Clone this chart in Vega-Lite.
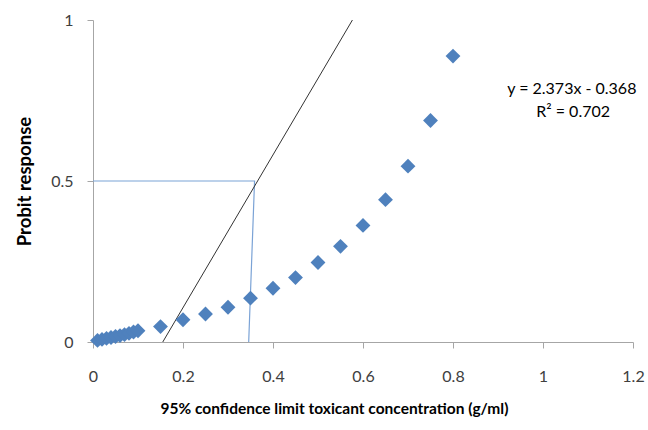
{
  "$schema": "https://vega.github.io/schema/vega-lite/v6.json",
  "width": 540,
  "height": 322,
  "autosize": "none",
  "padding": {"left": 93, "top": 20, "right": 15, "bottom": 88},
  "background": "white",
  "config": {
    "view": {"stroke": null},
    "font": "Lato",
    "axis": {"grid": false, "domainColor": "#A6A6A6", "tickColor": "#A6A6A6", "tickSize": 6, "labelColor": "#404040", "labelFontSize": 16, "labelFont": "Lato", "titleFont": "Lato", "titleColor": "#000000", "titleFontWeight": "bold", "titleFontSize": 15}
  },
  "encoding": {
    "x": {"field": "x", "type": "quantitative", "scale": {"domain": [0, 1.2], "nice": false, "zero": false},
      "axis": {"values": [0, 0.2, 0.4, 0.6, 0.8, 1, 1.2], "format": "~g", "labelPadding": 20, "title": "95% confidence limit toxicant concentration (g/ml)", "titleFontSize": 15.5, "titleX": 241, "titleY": 71, "titleAlign": "center", "titleBaseline": "alphabetic", "labelFlush": false}},
    "y": {"field": "y", "type": "quantitative", "scale": {"domain": [0, 1], "nice": false},
      "axis": {"values": [0, 0.5, 1], "format": "~g", "labelPadding": 14, "title": "Probit response", "titleFontSize": 18.5, "titleX": -63, "titleY": 161, "titleAngle": -90, "titleBaseline": "alphabetic", "titleAlign": "center", "labelFlush": false}}
  },
  "layer": [
    {
      "data": {"values": [{"x": 0, "y": 0.5, "o": 0}, {"x": 0.359, "y": 0.5, "o": 1}, {"x": 0.346, "y": 0, "o": 2}]},
      "mark": {"type": "line", "color": "#7BA3D6", "strokeWidth": 1.2},
      "encoding": {"order": {"field": "o", "type": "quantitative"}}
    },
    {
      "data": {"values": [{"x": 0.155, "y": 0}, {"x": 0.5765, "y": 1}]},
      "mark": {"type": "line", "color": "#333333", "strokeWidth": 1},
      "encoding": {}
    },
    {
      "data": {"values": [
        {"x": 0.01, "y": 0.005}, {"x": 0.02, "y": 0.008}, {"x": 0.03, "y": 0.011}, {"x": 0.04, "y": 0.014},
        {"x": 0.05, "y": 0.017}, {"x": 0.06, "y": 0.02}, {"x": 0.07, "y": 0.023}, {"x": 0.08, "y": 0.027},
        {"x": 0.09, "y": 0.031}, {"x": 0.1, "y": 0.035}, {"x": 0.15, "y": 0.048}, {"x": 0.2, "y": 0.069},
        {"x": 0.25, "y": 0.087}, {"x": 0.3, "y": 0.108}, {"x": 0.35, "y": 0.136}, {"x": 0.4, "y": 0.167},
        {"x": 0.45, "y": 0.2}, {"x": 0.5, "y": 0.247}, {"x": 0.55, "y": 0.297}, {"x": 0.6, "y": 0.362},
        {"x": 0.65, "y": 0.442}, {"x": 0.7, "y": 0.546}, {"x": 0.75, "y": 0.688}, {"x": 0.8, "y": 0.888}
      ]},
      "mark": {"type": "point", "shape": "diamond", "filled": true, "size": 220, "color": "#4F81BD", "opacity": 1}
    },
    {
      "data": {"values": [{"x": 1.064, "y": 0.785, "label": "y = 2.373x - 0.368"}, {"x": 1.067, "y": 0.713, "label": "R² = 0.702"}]},
      "mark": {"type": "text", "fontSize": 16, "font": "Lato", "color": "#000000", "align": "center", "baseline": "middle"},
      "encoding": {"text": {"field": "label", "type": "nominal"}}
    }
  ]
}
